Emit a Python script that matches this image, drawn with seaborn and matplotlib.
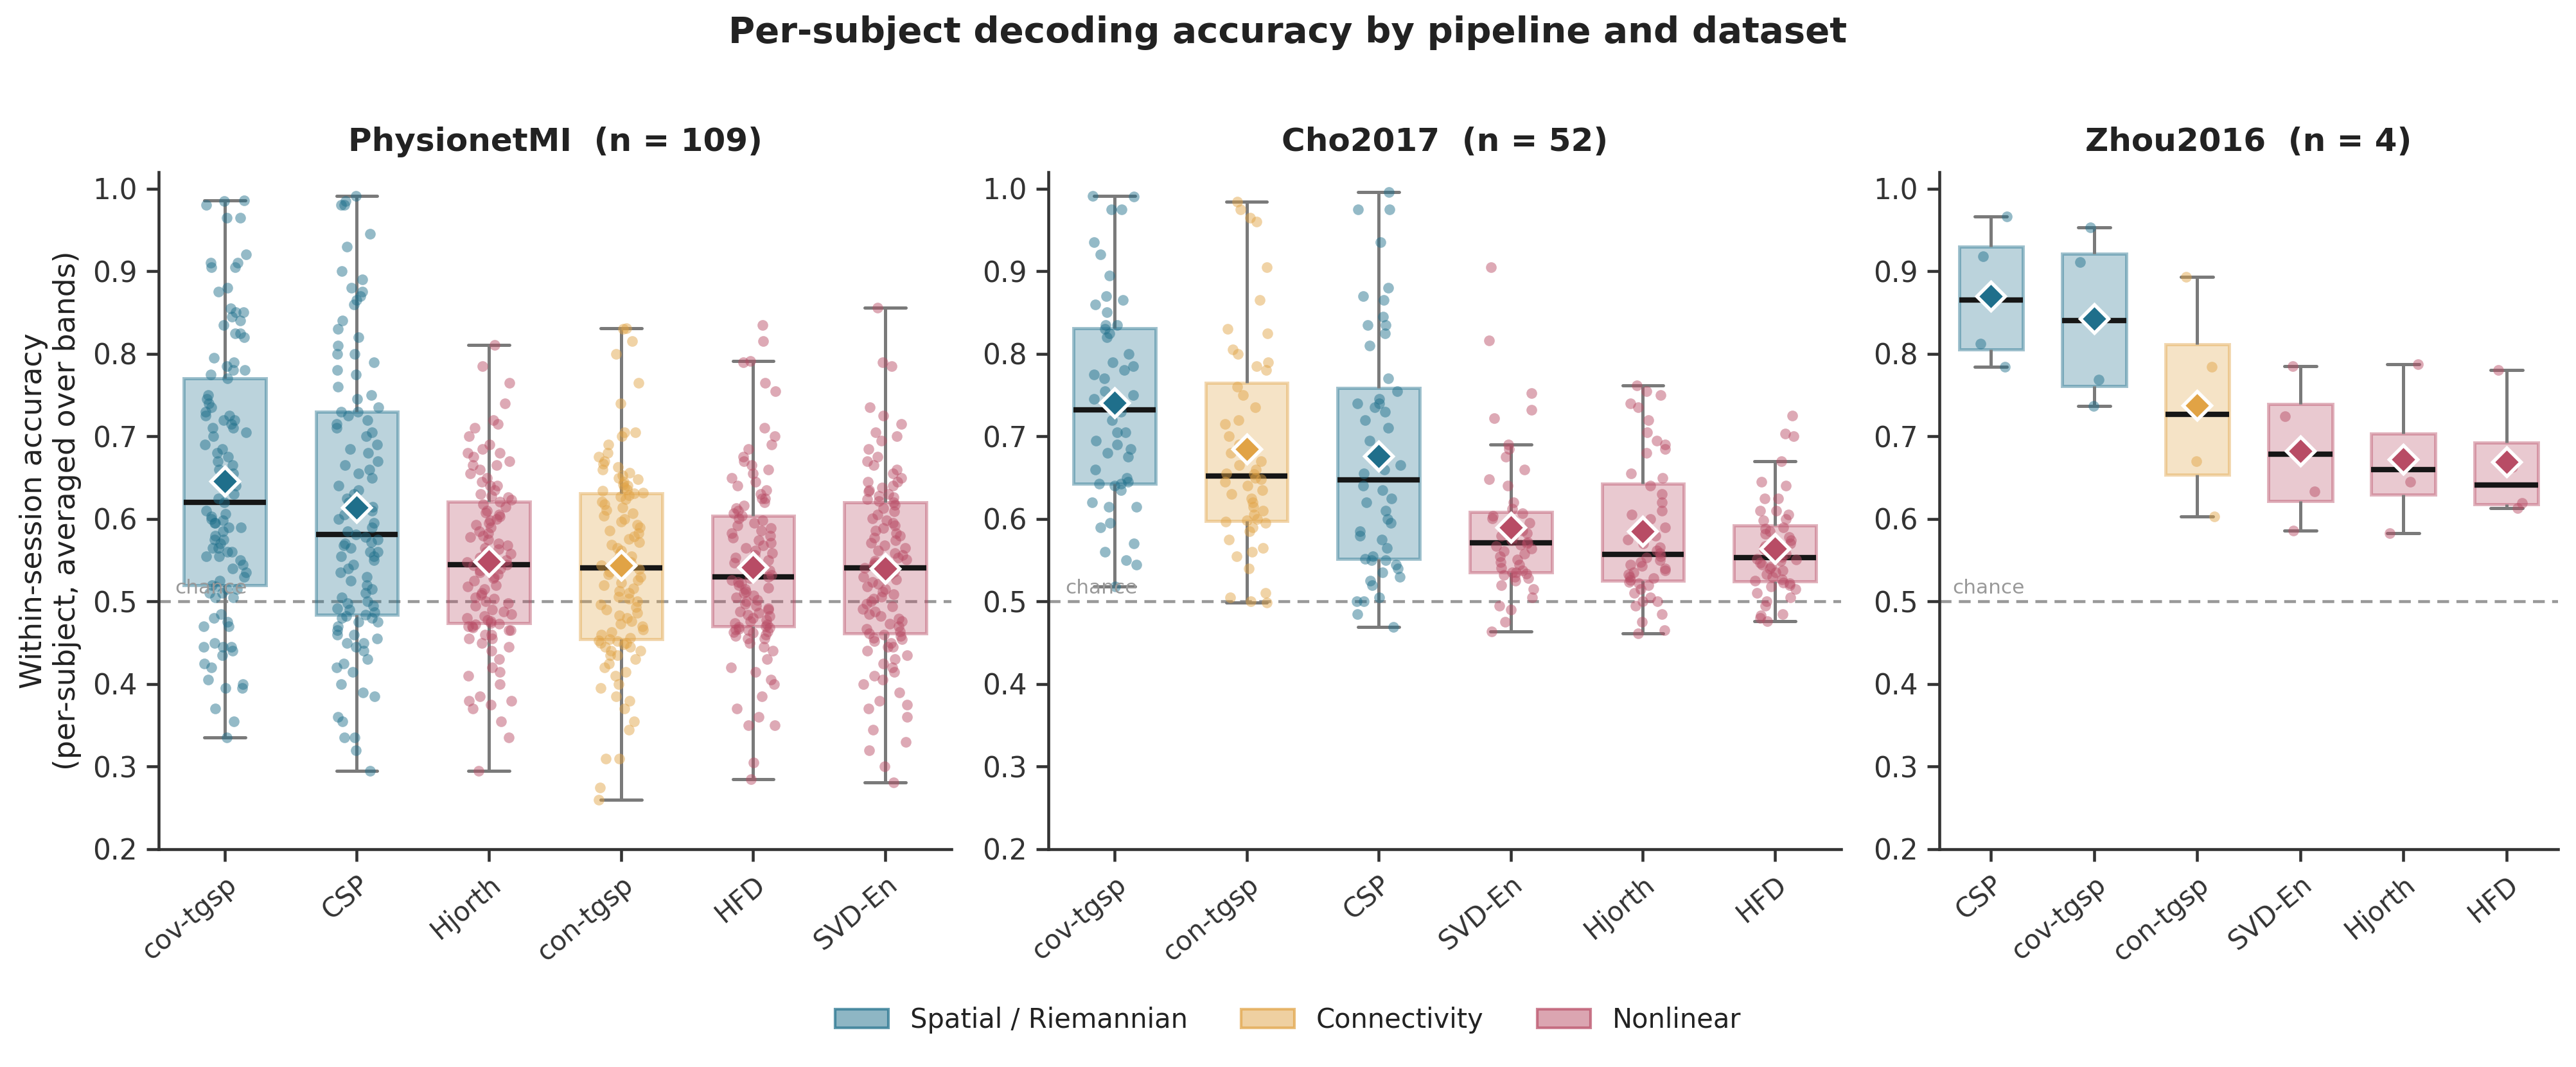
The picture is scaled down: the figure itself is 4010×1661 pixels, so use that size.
import numpy as np
import pandas as pd
import matplotlib
matplotlib.use("Agg")
import matplotlib.pyplot as plt
import seaborn as sns
from matplotlib.colors import to_rgba
from matplotlib.patches import Patch

# ---------------- DATA (per-subject accuracy) ----------------
datasets = ["PhysionetMI", "Cho2017", "Zhou2016"]

family_names = ["Spatial / Riemannian", "Connectivity", "Nonlinear"]
family_colors = ["#1f6f8b", "#e1a345", "#b84c65"]
pipeline_family = {
    "cov-tgsp": "Spatial / Riemannian",
    "CSP": "Spatial / Riemannian",
    "con-tgsp": "Connectivity",
    "Hjorth": "Nonlinear",
    "HFD": "Nonlinear",
    "SVD-En": "Nonlinear",
}

# pipeline order per panel (ranked by mean accuracy)
order_physionet = ["cov-tgsp", "CSP", "Hjorth", "con-tgsp", "HFD", "SVD-En"]
order_cho = ["cov-tgsp", "con-tgsp", "CSP", "SVD-En", "Hjorth", "HFD"]
order_zhou = ["CSP", "cov-tgsp", "con-tgsp", "SVD-En", "Hjorth", "HFD"]

# PhysionetMI, 109 subjects
phys_cov_tgsp = [
    0.335, 0.355, 0.370, 0.395, 0.395, 0.400, 0.405, 0.420, 0.425, 0.435, 0.445, 0.445, 0.445, 0.450,
    0.440, 0.470, 0.470, 0.475, 0.480, 0.485, 0.505, 0.505, 0.510, 0.510, 0.515, 0.515, 0.518, 0.520,
    0.525, 0.530, 0.535, 0.540, 0.545, 0.550, 0.555, 0.555, 0.560, 0.560, 0.565, 0.565, 0.570, 0.575,
    0.575, 0.580, 0.585, 0.590, 0.590, 0.595, 0.595, 0.598, 0.600, 0.603, 0.606, 0.610, 0.620,
    0.625, 0.630, 0.640, 0.645, 0.655, 0.660, 0.665, 0.670, 0.675, 0.680, 0.685, 0.690, 0.700, 0.705,
    0.710, 0.710, 0.715, 0.720, 0.720, 0.725, 0.725, 0.730, 0.735, 0.740, 0.745, 0.750, 0.770,
    0.775, 0.780, 0.780, 0.785, 0.790, 0.795, 0.820, 0.825, 0.825, 0.835, 0.840, 0.850, 0.845, 0.850,
    0.855, 0.875, 0.880, 0.905, 0.910, 0.905, 0.910, 0.920, 0.965, 0.965, 0.980, 0.985, 0.986,
]
phys_csp = [
    0.295, 0.320, 0.335, 0.335, 0.355, 0.360, 0.385, 0.390, 0.400, 0.415, 0.420, 0.425, 0.430, 0.440,
    0.445, 0.450, 0.450, 0.455, 0.460, 0.460, 0.465, 0.470, 0.475, 0.475, 0.480, 0.480, 0.482, 0.484,
    0.487, 0.490, 0.492, 0.495, 0.498, 0.500, 0.505, 0.510, 0.515, 0.520, 0.525, 0.530, 0.535, 0.540,
    0.545, 0.550, 0.555, 0.555, 0.560, 0.560, 0.565, 0.568, 0.570, 0.572, 0.575, 0.578, 0.581,
    0.585, 0.590, 0.595, 0.600, 0.605, 0.610, 0.615, 0.620, 0.625, 0.630, 0.635, 0.640, 0.650, 0.655,
    0.660, 0.665, 0.670, 0.680, 0.685, 0.690, 0.700, 0.705, 0.710, 0.715, 0.720, 0.725, 0.730,
    0.730, 0.735, 0.745, 0.750, 0.760, 0.775, 0.780, 0.790, 0.800, 0.800, 0.810, 0.820, 0.830, 0.840,
    0.860, 0.865, 0.870, 0.875, 0.880, 0.890, 0.900, 0.930, 0.945, 0.980, 0.980, 0.985, 0.991,
]
phys_hjorth = [
    0.295, 0.335, 0.355, 0.370, 0.375, 0.380, 0.380, 0.385, 0.400, 0.410, 0.415, 0.420, 0.430, 0.440,
    0.445, 0.450, 0.455, 0.455, 0.460, 0.460, 0.465, 0.465, 0.468, 0.470, 0.470, 0.472, 0.473, 0.474,
    0.476, 0.478, 0.480, 0.482, 0.485, 0.488, 0.490, 0.495, 0.498, 0.500, 0.503, 0.505, 0.508, 0.510,
    0.515, 0.518, 0.520, 0.525, 0.528, 0.530, 0.533, 0.535, 0.538, 0.540, 0.542, 0.544, 0.545,
    0.548, 0.550, 0.553, 0.555, 0.558, 0.560, 0.563, 0.565, 0.568, 0.570, 0.575, 0.578, 0.580, 0.583,
    0.585, 0.590, 0.593, 0.595, 0.598, 0.600, 0.603, 0.605, 0.608, 0.610, 0.615, 0.618, 0.621,
    0.623, 0.626, 0.628, 0.630, 0.635, 0.640, 0.640, 0.645, 0.650, 0.655, 0.660, 0.665, 0.665, 0.670,
    0.675, 0.680, 0.680, 0.685, 0.690, 0.700, 0.710, 0.715, 0.720, 0.740, 0.765, 0.785, 0.811,
]
phys_con_tgsp = [
    0.260, 0.275, 0.310, 0.310, 0.345, 0.355, 0.370, 0.380, 0.385, 0.395, 0.400, 0.410, 0.415, 0.420,
    0.425, 0.430, 0.435, 0.435, 0.440, 0.440, 0.445, 0.445, 0.448, 0.450, 0.450, 0.452, 0.453, 0.454,
    0.456, 0.460, 0.463, 0.466, 0.470, 0.473, 0.476, 0.480, 0.483, 0.486, 0.490, 0.493, 0.496, 0.500,
    0.503, 0.506, 0.510, 0.513, 0.516, 0.520, 0.523, 0.526, 0.530, 0.533, 0.536, 0.539, 0.541,
    0.544, 0.548, 0.551, 0.555, 0.558, 0.562, 0.565, 0.569, 0.572, 0.576, 0.579, 0.583, 0.586, 0.590,
    0.593, 0.597, 0.600, 0.604, 0.607, 0.611, 0.614, 0.618, 0.621, 0.624, 0.627, 0.629, 0.631,
    0.632, 0.634, 0.636, 0.638, 0.640, 0.642, 0.645, 0.648, 0.650, 0.653, 0.656, 0.660, 0.663, 0.667,
    0.670, 0.675, 0.680, 0.690, 0.700, 0.705, 0.705, 0.740, 0.765, 0.800, 0.815, 0.830, 0.831,
]
phys_hfd = [
    0.285, 0.305, 0.350, 0.350, 0.360, 0.370, 0.385, 0.400, 0.405, 0.415, 0.420, 0.430, 0.440, 0.445,
    0.450, 0.455, 0.455, 0.458, 0.460, 0.462, 0.463, 0.464, 0.465, 0.466, 0.467, 0.468, 0.469, 0.470,
    0.472, 0.474, 0.476, 0.478, 0.480, 0.482, 0.484, 0.486, 0.488, 0.490, 0.492, 0.495, 0.497, 0.500,
    0.502, 0.505, 0.507, 0.510, 0.512, 0.515, 0.517, 0.520, 0.522, 0.524, 0.526, 0.528, 0.530,
    0.532, 0.534, 0.536, 0.538, 0.540, 0.542, 0.544, 0.547, 0.550, 0.553, 0.556, 0.559, 0.562, 0.565,
    0.568, 0.571, 0.574, 0.577, 0.580, 0.583, 0.586, 0.589, 0.592, 0.595, 0.598, 0.601, 0.604,
    0.607, 0.610, 0.613, 0.616, 0.620, 0.625, 0.625, 0.630, 0.635, 0.640, 0.645, 0.650, 0.655, 0.660,
    0.665, 0.670, 0.675, 0.685, 0.690, 0.700, 0.710, 0.755, 0.765, 0.790, 0.791, 0.815, 0.835,
]
phys_svd_en = [
    0.281, 0.300, 0.320, 0.330, 0.345, 0.360, 0.370, 0.375, 0.380, 0.390, 0.400, 0.405, 0.410, 0.415,
    0.420, 0.425, 0.430, 0.435, 0.440, 0.445, 0.445, 0.450, 0.452, 0.454, 0.456, 0.458, 0.460, 0.461,
    0.464, 0.467, 0.470, 0.473, 0.476, 0.479, 0.482, 0.485, 0.488, 0.491, 0.494, 0.497, 0.500, 0.503,
    0.506, 0.509, 0.512, 0.515, 0.518, 0.521, 0.524, 0.527, 0.530, 0.533, 0.536, 0.539, 0.541,
    0.543, 0.545, 0.547, 0.549, 0.551, 0.553, 0.556, 0.559, 0.562, 0.565, 0.568, 0.571, 0.574, 0.577,
    0.580, 0.583, 0.586, 0.589, 0.592, 0.595, 0.598, 0.601, 0.605, 0.609, 0.613, 0.617, 0.620,
    0.622, 0.624, 0.626, 0.628, 0.630, 0.633, 0.635, 0.638, 0.640, 0.645, 0.645, 0.650, 0.655, 0.660,
    0.665, 0.670, 0.675, 0.685, 0.695, 0.700, 0.705, 0.715, 0.725, 0.735, 0.785, 0.790, 0.856,
]

# Cho2017, 52 subjects
cho_cov_tgsp = [
    0.518, 0.545, 0.550, 0.560, 0.570, 0.590, 0.595, 0.615, 0.615, 0.620, 0.635, 0.640, 0.643,
    0.643, 0.645, 0.650, 0.660, 0.675, 0.680, 0.685, 0.690, 0.695, 0.705, 0.705, 0.720, 0.730,
    0.734, 0.745, 0.750, 0.755, 0.770, 0.775, 0.780, 0.785, 0.790, 0.800, 0.820, 0.825, 0.830,
    0.835, 0.835, 0.850, 0.860, 0.865, 0.870, 0.895, 0.920, 0.935, 0.975, 0.975, 0.990, 0.991,
]
cho_con_tgsp = [
    0.499, 0.500, 0.505, 0.510, 0.540, 0.555, 0.560, 0.565, 0.575, 0.585, 0.590, 0.595, 0.597,
    0.598, 0.600, 0.605, 0.610, 0.615, 0.620, 0.625, 0.630, 0.635, 0.640, 0.645, 0.648, 0.650,
    0.654, 0.655, 0.660, 0.665, 0.670, 0.680, 0.690, 0.700, 0.715, 0.720, 0.735, 0.750, 0.760,
    0.780, 0.785, 0.790, 0.800, 0.805, 0.825, 0.830, 0.865, 0.905, 0.960, 0.965, 0.975, 0.984,
]
cho_csp = [
    0.469, 0.485, 0.500, 0.500, 0.505, 0.520, 0.525, 0.530, 0.535, 0.540, 0.545, 0.550, 0.550,
    0.552, 0.555, 0.565, 0.575, 0.580, 0.585, 0.595, 0.600, 0.610, 0.620, 0.625, 0.635, 0.640,
    0.655, 0.660, 0.665, 0.680, 0.695, 0.710, 0.720, 0.730, 0.735, 0.740, 0.740, 0.745, 0.755,
    0.770, 0.810, 0.825, 0.835, 0.835, 0.845, 0.865, 0.870, 0.880, 0.935, 0.975, 0.975, 0.996,
]
cho_svd_en = [
    0.464, 0.475, 0.490, 0.495, 0.505, 0.515, 0.520, 0.525, 0.528, 0.530, 0.532, 0.534, 0.535,
    0.535, 0.538, 0.541, 0.545, 0.548, 0.551, 0.555, 0.558, 0.561, 0.564, 0.567, 0.569, 0.570,
    0.572, 0.574, 0.577, 0.580, 0.583, 0.586, 0.589, 0.592, 0.595, 0.598, 0.601, 0.604, 0.607,
    0.612, 0.620, 0.640, 0.648, 0.660, 0.675, 0.685, 0.690, 0.722, 0.732, 0.752, 0.816, 0.905,
]
cho_hjorth = [
    0.461, 0.465, 0.475, 0.485, 0.495, 0.500, 0.500, 0.505, 0.510, 0.515, 0.520, 0.522, 0.524,
    0.526, 0.528, 0.530, 0.533, 0.535, 0.538, 0.540, 0.543, 0.545, 0.548, 0.550, 0.553, 0.555,
    0.559, 0.562, 0.566, 0.570, 0.575, 0.580, 0.590, 0.600, 0.605, 0.610, 0.620, 0.630, 0.640,
    0.650, 0.655, 0.680, 0.685, 0.690, 0.695, 0.705, 0.720, 0.735, 0.740, 0.750, 0.755, 0.762,
]
cho_hfd = [
    0.476, 0.480, 0.483, 0.485, 0.495, 0.500, 0.505, 0.510, 0.515, 0.518, 0.520, 0.522, 0.523,
    0.525, 0.527, 0.530, 0.533, 0.535, 0.538, 0.540, 0.542, 0.545, 0.547, 0.549, 0.551, 0.552,
    0.554, 0.556, 0.558, 0.561, 0.564, 0.567, 0.570, 0.574, 0.578, 0.582, 0.585, 0.588, 0.590,
    0.598, 0.600, 0.605, 0.610, 0.610, 0.625, 0.625, 0.640, 0.645, 0.670, 0.700, 0.703, 0.725,
]

# Zhou2016, 4 subjects
zhou_csp = [0.966, 0.918, 0.812, 0.784]
zhou_cov_tgsp = [0.953, 0.911, 0.769, 0.737]
zhou_con_tgsp = [0.893, 0.784, 0.670, 0.603]
zhou_svd_en = [0.785, 0.724, 0.633, 0.586]
zhou_hjorth = [0.787, 0.675, 0.645, 0.583]
zhou_hfd = [0.780, 0.663, 0.619, 0.613]

per_dataset = {
    "PhysionetMI": {"cov-tgsp": phys_cov_tgsp, "CSP": phys_csp, "Hjorth": phys_hjorth,
                    "con-tgsp": phys_con_tgsp, "HFD": phys_hfd, "SVD-En": phys_svd_en},
    "Cho2017": {"cov-tgsp": cho_cov_tgsp, "con-tgsp": cho_con_tgsp, "CSP": cho_csp,
                "SVD-En": cho_svd_en, "Hjorth": cho_hjorth, "HFD": cho_hfd},
    "Zhou2016": {"CSP": zhou_csp, "cov-tgsp": zhou_cov_tgsp, "con-tgsp": zhou_con_tgsp,
                 "SVD-En": zhou_svd_en, "Hjorth": zhou_hjorth, "HFD": zhou_hfd},
}
orders = {"PhysionetMI": order_physionet, "Cho2017": order_cho, "Zhou2016": order_zhou}

rows = []
for ds in datasets:
    for pipe, vals in per_dataset[ds].items():
        for v in vals:
            rows.append((ds, pipe, pipeline_family[pipe], v))
df = pd.DataFrame(rows, columns=["dataset", "pipeline", "family", "acc"])

# ---------------- STYLE ----------------
sns.set_theme(style="ticks")
plt.rcParams["font.family"] = ["DejaVu Sans"]
plt.rcParams.update({
    "axes.edgecolor": "#333333",
    "axes.linewidth": 1.1,
    "xtick.color": "#333333",
    "ytick.color": "#333333",
    "xtick.major.width": 1.1,
    "ytick.major.width": 1.1,
    "xtick.major.size": 4.5,
    "ytick.major.size": 4.5,
    "text.color": "#222222",
    "axes.labelcolor": "#222222",
})
np.random.seed(3)

fam_color = dict(zip(family_names, family_colors))

fig = plt.figure(figsize=(4010 / 300, 1661 / 300), dpi=300)
rects = [
    [0.0616, 0.2041, 0.3077, 0.6346],
    [0.4070, 0.2041, 0.3077, 0.6346],
    [0.7529, 0.2041, 0.2401, 0.6346],
]

for ds, rect in zip(datasets, rects):
    ax = fig.add_axes(rect)
    sub = df[df["dataset"] == ds]
    order = orders[ds]

    ax.axhline(0.5, ls=(0, (4, 2.5)), color="#999999", lw=1.1, zorder=0)

    for fam in family_names:
        part = sub[sub["family"] == fam]
        col = fam_color[fam]
        sns.boxplot(
            data=part, x="pipeline", y="acc", order=order, width=0.62,
            showfliers=False, color=col, ax=ax,
            boxprops=dict(facecolor=to_rgba(col, 0.3), edgecolor=to_rgba(col, 0.42), linewidth=1.2),
            medianprops=dict(color="#161616", linewidth=2.0),
            whiskerprops=dict(color="#7a7a7a", linewidth=1.2),
            capprops=dict(color="#7a7a7a", linewidth=1.2),
        )
        sns.stripplot(
            data=part, x="pipeline", y="acc", order=order, color=col,
            alpha=0.48, size=4, jitter=0.17, linewidth=0, ax=ax, zorder=3,
        )

    means = sub.groupby("pipeline")["acc"].mean()
    for i, p in enumerate(order):
        ax.plot(i, means[p], marker="D", ms=7.5, mfc=fam_color[pipeline_family[p]],
                mec="white", mew=1.3, zorder=6, ls="none")

    ax.text(-0.375, 0.505, "chance", fontsize=7.5, color="#999999", ha="left", va="bottom")

    n_sub = len(per_dataset[ds][order[0]])
    ax.set_title(f"{ds}  (n = {n_sub})", fontsize=12, fontweight="bold", pad=8)
    ax.set_ylim(0.2, 1.02)
    ax.set_yticks(np.arange(0.2, 1.01, 0.1))
    ax.set_xlim(-0.5, len(order) - 0.5)
    ax.set_xlabel("")
    ax.set_ylabel("")
    ax.tick_params(axis="y", labelsize=10.5)
    ax.tick_params(axis="x", labelsize=10)
    plt.setp(ax.get_xticklabels(), rotation=40, ha="right", rotation_mode="anchor")
    sns.despine(ax=ax)
    if ds == datasets[0]:
        ax.set_ylabel("Within-session accuracy\n(per-subject, averaged over bands)", fontsize=11)

fig.suptitle("Per-subject decoding accuracy by pipeline and dataset",
             fontsize=13.5, fontweight="bold", y=0.969, va="center")

handles = [Patch(facecolor=to_rgba(c, 0.5), edgecolor=to_rgba(c, 0.7), linewidth=1.0)
           for c in family_colors]
fig.legend(handles, family_names, loc="center", bbox_to_anchor=(0.5, 0.044), ncol=3,
           frameon=False, fontsize=10, handlelength=2.0, columnspacing=2.0)

fig.savefig("out.png", dpi=300)
